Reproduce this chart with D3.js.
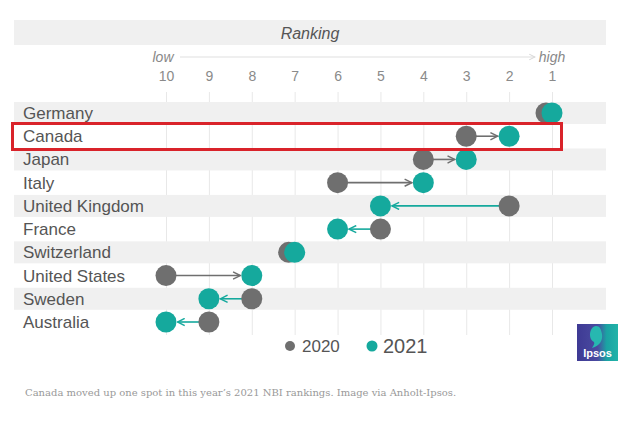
<!DOCTYPE html>
<html lang="en">
<head>
<meta charset="UTF-8">
<title>NBI Ranking 2020-2021</title>
<script src="https://d3js.org/d3.v7.min.js"></script>
<style>
  body { margin: 0; background: #fff; }
  svg { display: block; }
</style>
</head>
<body>
<script>
// data
var countries = ["Germany", "Canada", "Japan", "Italy", "United Kingdom",
                 "France", "Switzerland", "United States", "Sweden", "Australia"];
var rank2020 = [1, 3, 4, 6, 2, 5, 7, 10, 8, 9];
var rank2021 = [1, 2, 3, 4, 5, 6, 7, 8, 9, 10];
var ranks = [10, 9, 8, 7, 6, 5, 4, 3, 2, 1];
var years = ["2020", "2021"];

var width = 640, height = 422;
var grey = "#6f6f6f", teal = "#15a99d";

var svg = d3.select("body").append("svg")
    .attr("width", width)
    .attr("height", height)
    .style("font-family", "'Liberation Sans', Arial, sans-serif");

var x = d3.scaleLinear().domain([10, 1]).range([166, 552]);
var y = d3.scalePoint().domain(countries).range([113, 322]);

// title band
svg.append("rect").attr("x", 14).attr("y", 20).attr("width", 592).attr("height", 25)
    .attr("fill", "#f0f0f0");
svg.append("text").attr("x", 310).attr("y", 39).attr("text-anchor", "middle")
    .attr("font-size", 16).attr("font-style", "italic").attr("fill", "#555")
    .text("Ranking");

// low -> high
var defs = svg.append("defs");
defs.append("marker").attr("id", "axisArrow")
    .attr("viewBox", "0 0 10 10").attr("refX", 9).attr("refY", 5)
    .attr("markerWidth", 6).attr("markerHeight", 6).attr("orient", "auto")
    .append("path").attr("d", "M1,1L9,5L1,9").attr("fill", "none")
    .attr("stroke", "#d8d8d8").attr("stroke-width", 1.5);
svg.append("line").attr("x1", 180).attr("x2", 535).attr("y1", 57).attr("y2", 57)
    .attr("stroke", "#e0e0e0").attr("stroke-width", 1.2)
    .attr("marker-end", "url(#axisArrow)");
svg.append("text").attr("x", x(10) - 3).attr("y", 62).attr("text-anchor", "middle")
    .attr("font-size", 14).attr("font-style", "italic").attr("fill", "#888").text("low");
svg.append("text").attr("x", x(1)).attr("y", 62).attr("text-anchor", "middle")
    .attr("font-size", 14).attr("font-style", "italic").attr("fill", "#888").text("high");

// tick labels
var axis = svg.append("g").attr("transform", "translate(0,81)")
    .call(d3.axisTop(x).tickValues(ranks).tickSize(0).tickPadding(0));
axis.select(".domain").remove();
axis.selectAll("text").attr("font-size", 14).attr("fill", "#8a8a8a")
    .style("font-family", "'Liberation Sans', Arial, sans-serif");

// grid lines
var grid = svg.append("g").attr("transform", "translate(0,92)")
    .call(d3.axisBottom(x).tickValues(ranks).tickSize(243).tickFormat(""));
grid.select(".domain").remove();
grid.selectAll("line").attr("stroke", "#e8e8e8");

// row bands
svg.selectAll(".band").data(countries.filter(function(d, i) { return i % 2 === 0; }))
    .enter().append("rect").attr("class", "band")
    .attr("x", 14).attr("width", 592)
    .attr("y", function(d) { return y(d) - 11; }).attr("height", 22)
    .attr("fill", "#f0f0f0");

// country labels
svg.selectAll(".country").data(countries).enter().append("text")
    .attr("class", "country")
    .attr("x", 23).attr("y", function(d) { return y(d) + 6; })
    .attr("font-size", 17).attr("fill", "#555")
    .text(function(d) { return d; });

// arrows
var r = 10.5;
["g", "t"].forEach(function(k) {
  defs.append("marker").attr("id", "head-" + k)
      .attr("viewBox", "0 0 10 10").attr("refX", 9).attr("refY", 5)
      .attr("markerUnits", "userSpaceOnUse").attr("markerWidth", 9).attr("markerHeight", 9)
      .attr("orient", "auto")
      .append("path").attr("d", "M1,1L9,5L1,9").attr("fill", "none")
      .attr("stroke", k === "g" ? grey : teal).attr("stroke-width", 1.6);
});

var rows = countries.map(function(c, i) {
  return { name: c, a: rank2020[i], b: rank2021[i] };
});

svg.selectAll(".move").data(rows.filter(function(d) { return d.a !== d.b; }))
    .enter().append("line").attr("class", "move")
    .attr("x1", function(d) { return x(d.a); })
    .attr("x2", function(d) {
      var dir = x(d.b) > x(d.a) ? 1 : -1;
      return x(d.b) - dir * (r + 1);
    })
    .attr("y1", function(d) { return y(d.name); })
    .attr("y2", function(d) { return y(d.name); })
    .attr("stroke", function(d) { return d.b < d.a ? grey : teal; })
    .attr("stroke-width", 1.6)
    .attr("marker-end", function(d) { return d.b < d.a ? "url(#head-g)" : "url(#head-t)"; });

// dots: 2020 nudged left when the rank did not change
svg.selectAll(".d2020").data(rows).enter().append("circle")
    .attr("cx", function(d) { return x(d.a) - (d.a === d.b ? 6 : 0); })
    .attr("cy", function(d) { return y(d.name); })
    .attr("r", r).attr("fill", grey);
svg.selectAll(".d2021").data(rows).enter().append("circle")
    .attr("cx", function(d) { return x(d.b); })
    .attr("cy", function(d) { return y(d.name); })
    .attr("r", r).attr("fill", teal);

// highlight Canada
svg.append("rect").attr("x", 12.5).attr("y", 123.5).attr("width", 549).attr("height", 26)
    .attr("fill", "none").attr("stroke", "#d9232a").attr("stroke-width", 3);

// legend
var leg = svg.selectAll(".leg").data(years).enter().append("g")
    .attr("transform", function(d, i) { return "translate(" + (290 + i * 82) + ",346)"; });
leg.append("circle").attr("r", function(d, i) { return i ? 5.5 : 5; })
    .attr("fill", function(d, i) { return i ? teal : grey; });
leg.append("text").attr("x", function(d, i) { return i ? 11 : 12; })
    .attr("y", function(d, i) { return i ? 7 : 6; })
    .attr("font-size", function(d, i) { return i ? 20 : 17; })
    .attr("fill", "#555").text(function(d) { return d; });

// Ipsos logo
var grad = defs.append("linearGradient").attr("id", "ipsosGrad")
    .attr("x1", "0%").attr("x2", "100%");
grad.append("stop").attr("offset", "0%").attr("stop-color", "#3e3a94");
grad.append("stop").attr("offset", "50%").attr("stop-color", "#4a4aa0");
grad.append("stop").attr("offset", "72%").attr("stop-color", "#1aa3a3");
grad.append("stop").attr("offset", "100%").attr("stop-color", "#22b3a8");
var logo = svg.append("g").attr("transform", "translate(577,324)");
logo.append("rect").attr("width", 41).attr("height", 37).attr("fill", "url(#ipsosGrad)");
logo.append("path")
    .attr("d", "M19,2 C12,3 11,15 17,18 C18,20 16,22 15,24 C23,22 26,16 25,10 C24,5 23,2 19,2Z")
    .attr("fill", "#27b8b0");
logo.append("text").attr("x", 20.5).attr("y", 33).attr("text-anchor", "middle")
    .attr("font-size", 11).attr("font-weight", "bold").attr("fill", "#fff").text("Ipsos");

// caption
svg.append("text").attr("x", 25).attr("y", 396)
    .style("font-family", "'DejaVu Serif', 'Liberation Serif', serif")
    .attr("font-size", 10).attr("fill", "#999")
    .text("Canada moved up one spot in this year\u2019s 2021 NBI rankings. Image via Anholt-Ipsos.");
</script>
</body>
</html>
